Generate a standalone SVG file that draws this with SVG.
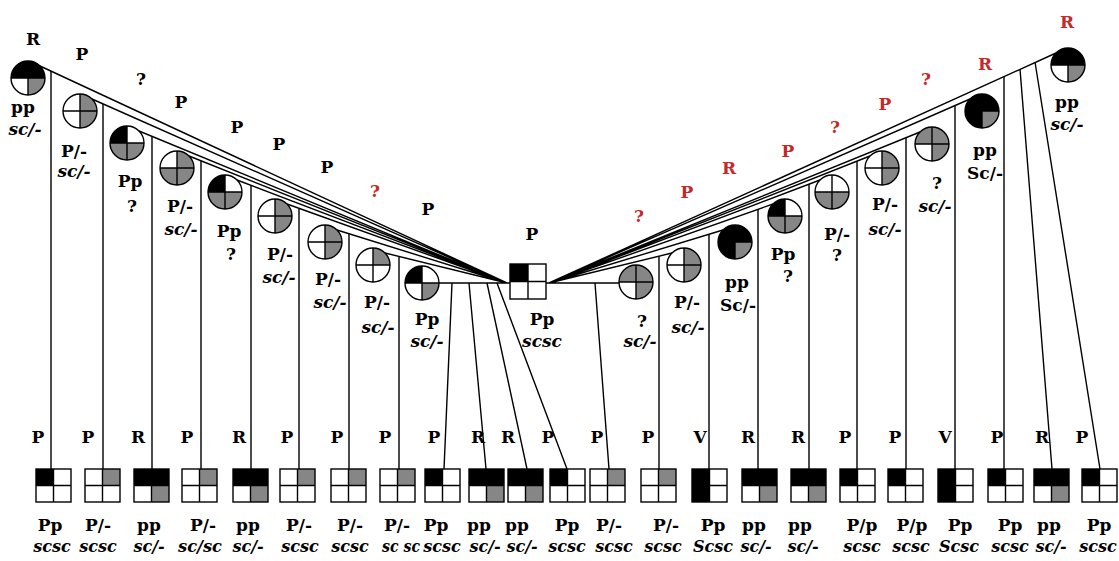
<svg xmlns="http://www.w3.org/2000/svg" width="1119" height="561" viewBox="0 0 1119 561">
<style>
.ol{fill:none;stroke:#000;stroke-width:1.4}
.k{fill:#000}
.g{fill:#868686}
.t{font-family:"DejaVu Serif","Liberation Serif",serif;font-weight:bold;font-size:17px;text-anchor:middle;fill:#000}
.i{font-style:italic}
.s{font-size:16px}
.red{fill:#c62828}
</style>
<defs>
<path id="ctl" d="M0,0H-17A17,17 0 0 1 0,-17Z"/>
<path id="ctr" d="M0,0V-17A17,17 0 0 1 17,0Z"/>
<path id="cbr" d="M0,0H17A17,17 0 0 1 0,17Z"/>
<path id="cbl" d="M0,0V17A17,17 0 0 1 -17,0Z"/>
<g id="co" class="ol"><circle r="17"/><path d="M-17,0H17M0,-17V17"/></g>
<rect id="btl" width="17.5" height="16.5"/>
<rect id="btr" x="17.5" width="17.5" height="16.5"/>
<rect id="bbl" y="16.5" width="17.5" height="16.5"/>
<rect id="bbr" x="17.5" y="16.5" width="17.5" height="16.5"/>
<g id="bo" class="ol"><rect width="35" height="33"/><path d="M17.5,0V33M0,16.5H35"/></g>
<g id="pA"><use href="#btl" class="k"/><use href="#bo"/></g>
<g id="pB"><use href="#btr" class="g"/><use href="#bo"/></g>
<g id="pC"><use href="#btl" class="k"/><use href="#btr" class="k"/><use href="#bbr" class="g"/><use href="#bo"/></g>
<g id="pD"><use href="#btl" class="k"/><use href="#bbl" class="k"/><use href="#bo"/></g>
</defs>
<rect width="1119" height="561" fill="#fff"/>

<g id="connectors" class="ol">
<path d="M40,66L507,283M92,99L507,283M139,131L507,283M189,156L507,283M237,180L507,283M287,204L507,283M337,230L507,283M385,253L507,283M439,283H510"/>
<path d="M546,283H619M672,253L549,283M723,230L549,283M773,204L549,283M820,180L549,283M870,156L549,283M920,132L549,283M970,99L549,283M1056,53L549,283"/>
<path d="M51,71V469M103,104V469M152,136V469M201,161V469M251,185V469M299,208V469M349,234V469M399,256V469"/>
<path d="M452,283L444,469M469,283L486,469M487,283L527,469M497,283L567,469M595,283L609,469"/>
<path d="M659,256V469M709,234V469M758,209V469M809,184V469M857,161V469M906,138V469M955,106V469M1004,77V469M1020,69L1052,469M1035,62L1100,469"/>
</g>

<g id="male">
<rect x="510" y="264" width="18" height="17.5" class="k"/>
<rect x="510" y="264" width="36" height="35" class="ol"/>
<path d="M528,264V299M510,281.5H546" class="ol"/>
<text class="t" x="532" y="240">P</text>
<text class="t" x="542" y="325">Pp</text>
<text class="t i" x="542" y="347">scsc</text>
</g>

<g id="wife-l1"><g transform="translate(28,78)"><use href="#ctl" class="k"/><use href="#ctr" class="k"/><use href="#cbr" class="g"/><use href="#co"/></g>
<text class="t" x="33" y="45">R</text><text class="t" x="23" y="113">pp</text><text class="t i" x="25" y="135">sc/-</text></g>
<g id="wife-l2"><g transform="translate(80,111)"><use href="#ctr" class="g"/><use href="#cbr" class="g"/><use href="#co"/></g>
<text class="t" x="82" y="60">P</text><text class="t" x="74" y="157">P/-</text><text class="t i" x="74" y="177">sc/-</text></g>
<g id="wife-l3"><g transform="translate(127,143)"><use href="#ctl" class="k"/><use href="#cbl" class="g"/><use href="#cbr" class="g"/><use href="#co"/></g>
<text class="t" x="141" y="85">?</text><text class="t" x="130" y="187">Pp</text><text class="t" x="132" y="212">?</text></g>
<g id="wife-l4"><g transform="translate(177,168)"><use href="#ctr" class="g"/><use href="#cbl" class="g"/><use href="#cbr" class="g"/><use href="#co"/></g>
<text class="t" x="181" y="108">P</text><text class="t" x="180" y="212">P/-</text><text class="t i" x="181" y="235">sc/-</text></g>
<g id="wife-l5"><g transform="translate(225,192)"><use href="#ctl" class="k"/><use href="#cbl" class="g"/><use href="#cbr" class="g"/><use href="#co"/></g>
<text class="t" x="237" y="133">P</text><text class="t" x="229" y="237">Pp</text><text class="t" x="231" y="260">?</text></g>
<g id="wife-l6"><g transform="translate(275,216)"><use href="#ctr" class="g"/><use href="#cbr" class="g"/><use href="#co"/></g>
<text class="t" x="279" y="150">P</text><text class="t" x="280" y="260">P/-</text><text class="t i" x="279" y="283">sc/-</text></g>
<g id="wife-l7"><g transform="translate(325,242)"><use href="#ctr" class="g"/><use href="#cbr" class="g"/><use href="#co"/></g>
<text class="t" x="327" y="173">P</text><text class="t" x="328" y="285">P/-</text><text class="t i" x="330" y="308">sc/-</text></g>
<g id="wife-l8"><g transform="translate(373,265)"><use href="#ctr" class="g"/><use href="#co"/></g>
<text class="t red" x="375" y="197">?</text><text class="t" x="377" y="308">P/-</text><text class="t i" x="378" y="333">sc/-</text></g>
<g id="wife-l9"><g transform="translate(422,283)"><use href="#ctl" class="k"/><use href="#cbr" class="g"/><use href="#co"/></g>
<text class="t" x="428" y="215">P</text><text class="t" x="427" y="325">Pp</text><text class="t i" x="427" y="347">sc/-</text></g>

<g id="wife-r1"><g transform="translate(636,282)"><use href="#ctl" class="g"/><use href="#ctr" class="g"/><use href="#cbr" class="g"/><use href="#co"/></g>
<text class="t red" x="639" y="222">?</text><text class="t" x="642" y="327">?</text><text class="t i" x="640" y="347">sc/-</text></g>
<g id="wife-r2"><g transform="translate(684,265)"><use href="#ctr" class="g"/><use href="#cbr" class="g"/><use href="#co"/></g>
<text class="t red" x="687" y="198">P</text><text class="t" x="687" y="308">P/-</text><text class="t i" x="688" y="333">sc/-</text></g>
<g id="wife-r3"><g transform="translate(735,242)"><use href="#ctl" class="k"/><use href="#ctr" class="k"/><use href="#cbl" class="k"/><use href="#cbr" class="g"/><use href="#co"/></g>
<text class="t red" x="729" y="174">R</text><text class="t" x="737" y="288">pp</text><text class="t" x="738" y="311">Sc/-</text></g>
<g id="wife-r4"><g transform="translate(785,216)"><use href="#ctl" class="k"/><use href="#cbl" class="g"/><use href="#cbr" class="g"/><use href="#co"/></g>
<text class="t red" x="788" y="157">P</text><text class="t" x="783" y="260">Pp</text><text class="t" x="788" y="282">?</text></g>
<g id="wife-r5"><g transform="translate(832,192)"><use href="#cbl" class="g"/><use href="#cbr" class="g"/><use href="#co"/></g>
<text class="t red" x="835" y="133">?</text><text class="t" x="837" y="240">P/-</text><text class="t" x="837" y="261">?</text></g>
<g id="wife-r6"><g transform="translate(882,168)"><use href="#ctr" class="g"/><use href="#cbr" class="g"/><use href="#co"/></g>
<text class="t red" x="885" y="110">P</text><text class="t" x="885" y="210">P/-</text><text class="t i" x="885" y="235">sc/-</text></g>
<g id="wife-r7"><g transform="translate(932,144)"><use href="#ctl" class="g"/><use href="#ctr" class="g"/><use href="#cbr" class="g"/><use href="#co"/></g>
<text class="t red" x="926" y="85">?</text><text class="t" x="937" y="189">?</text><text class="t i" x="935" y="212">sc/-</text></g>
<g id="wife-r8"><g transform="translate(982,111)"><use href="#ctl" class="k"/><use href="#ctr" class="k"/><use href="#cbl" class="k"/><use href="#cbr" class="g"/><use href="#co"/></g>
<text class="t red" x="985" y="70">R</text><text class="t" x="985" y="156">pp</text><text class="t" x="985" y="179">Sc/-</text></g>
<g id="wife-r9"><g transform="translate(1068,65)"><use href="#ctl" class="k"/><use href="#ctr" class="k"/><use href="#cbr" class="g"/><use href="#co"/></g>
<text class="t red" x="1067" y="28">R</text><text class="t" x="1067" y="108">pp</text><text class="t i" x="1067" y="130">sc/-</text></g>

<g id="child-1"><use href="#pA" x="36" y="469"/><text class="t" x="38" y="443">P</text><text class="t" x="50" y="531">Pp</text><text class="t i s" x="52" y="552">scsc</text></g>
<g id="child-2"><use href="#pB" x="85" y="469"/><text class="t" x="88" y="443">P</text><text class="t" x="98" y="531">P/-</text><text class="t i s" x="98" y="552">scsc</text></g>
<g id="child-3"><use href="#pC" x="134" y="469"/><text class="t" x="138" y="443">R</text><text class="t" x="149" y="531">pp</text><text class="t i s" x="149" y="552">sc/-</text></g>
<g id="child-4"><use href="#pB" x="182" y="469"/><text class="t" x="187" y="443">P</text><text class="t" x="203" y="531">P/-</text><text class="t i s" x="200" y="552" textLength="44" lengthAdjust="spacingAndGlyphs">sc/sc</text></g>
<g id="child-5"><use href="#pC" x="233" y="469"/><text class="t" x="239" y="443">R</text><text class="t" x="248" y="531">pp</text><text class="t i s" x="248" y="552">sc/-</text></g>
<g id="child-6"><use href="#pB" x="280" y="469"/><text class="t" x="287" y="443">P</text><text class="t" x="299" y="531">P/-</text><text class="t i s" x="300" y="552">scsc</text></g>
<g id="child-7"><use href="#pB" x="331" y="469"/><text class="t" x="337" y="443">P</text><text class="t" x="350" y="531">P/-</text><text class="t i s" x="350" y="552">scsc</text></g>
<g id="child-8"><use href="#pB" x="380" y="469"/><text class="t" x="385" y="443">P</text><text class="t" x="397" y="531">P/-</text><text class="t i s" x="401" y="552" textLength="38" lengthAdjust="spacingAndGlyphs">sc sc</text></g>
<g id="child-9"><use href="#pA" x="425" y="469"/><text class="t" x="434" y="443">P</text><text class="t" x="436" y="531">Pp</text><text class="t i s" x="442" y="552">scsc</text></g>
<g id="child-10"><use href="#pC" x="469" y="469"/><text class="t" x="478" y="443">R</text><text class="t" x="479" y="531">pp</text><text class="t i s" x="485" y="552">sc/-</text></g>
<g id="child-11"><use href="#pC" x="508" y="469"/><text class="t" x="508" y="443">R</text><text class="t" x="517" y="531">pp</text><text class="t i s" x="522" y="552">sc/-</text></g>
<g id="child-12"><use href="#pA" x="550" y="469"/><text class="t" x="548" y="443">P</text><text class="t" x="567" y="531">Pp</text><text class="t i s" x="567" y="552">scsc</text></g>
<g id="child-13"><use href="#pB" x="590" y="469"/><text class="t" x="597" y="443">P</text><text class="t" x="609" y="531">P/-</text><text class="t i s" x="614" y="552">scsc</text></g>
<g id="child-14"><use href="#pB" x="641" y="469"/><text class="t" x="648" y="443">P</text><text class="t" x="666" y="531">P/-</text><text class="t i s" x="663" y="552">scsc</text></g>
<g id="child-15"><use href="#pD" x="692" y="469"/><text class="t" x="700" y="443">V</text><text class="t" x="713" y="531">Pp</text><text class="t i s" x="713" y="552">Scsc</text></g>
<g id="child-16"><use href="#pC" x="742" y="469"/><text class="t" x="748" y="443">R</text><text class="t" x="754" y="531">pp</text><text class="t i s" x="756" y="552">sc/-</text></g>
<g id="child-17"><use href="#pC" x="791" y="469"/><text class="t" x="798" y="443">R</text><text class="t" x="800" y="531">pp</text><text class="t i s" x="803" y="552">sc/-</text></g>
<g id="child-18"><use href="#pA" x="840" y="469"/><text class="t" x="845" y="443">P</text><text class="t" x="862" y="531">P/p</text><text class="t i s" x="862" y="552">scsc</text></g>
<g id="child-19"><use href="#pA" x="888" y="469"/><text class="t" x="895" y="443">P</text><text class="t" x="912" y="531">P/p</text><text class="t i s" x="911" y="552">scsc</text></g>
<g id="child-20"><use href="#pD" x="938" y="469"/><text class="t" x="945" y="443">V</text><text class="t" x="960" y="531">Pp</text><text class="t i s" x="959" y="552">Scsc</text></g>
<g id="child-21"><use href="#pA" x="988" y="469"/><text class="t" x="997" y="443">P</text><text class="t" x="1010" y="531">Pp</text><text class="t i s" x="1010" y="552">scsc</text></g>
<g id="child-22"><use href="#pC" x="1034" y="469"/><text class="t" x="1042" y="443">R</text><text class="t" x="1049" y="531">pp</text><text class="t i s" x="1051" y="552">sc/-</text></g>
<g id="child-23"><use href="#pA" x="1082" y="469"/><text class="t" x="1082" y="443">P</text><text class="t" x="1099" y="531">Pp</text><text class="t i s" x="1098" y="552">scsc</text></g>
</svg>
